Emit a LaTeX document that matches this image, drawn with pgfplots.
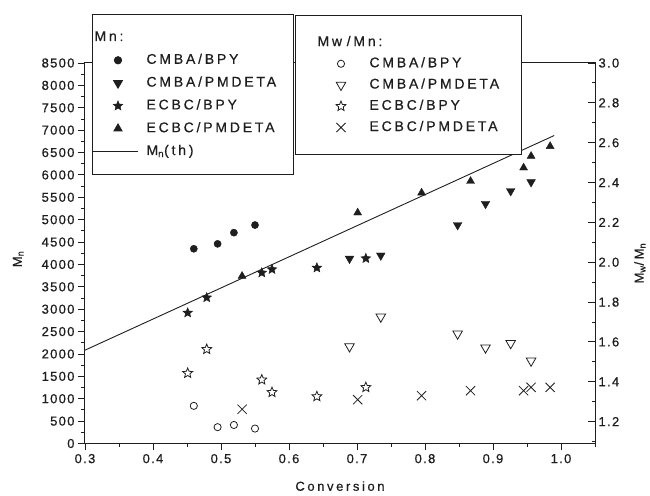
\documentclass[border=0pt]{standalone}
\usepackage{fontspec}
\setmainfont{Liberation Sans}[LetterSpace=10, FakeBold=0.6]
\newfontfamily\legfont{Liberation Sans}[LetterSpace=20, FakeBold=0.6]
\usepackage{pgfplots}
\pgfplotsset{compat=1.18}

\definecolor{ink}{HTML}{1E1E1E}

% filled five-pointed star
\pgfdeclareplotmark{fstar}{%
  \pgfpathmoveto{\pgfpointpolar{90}{\pgfplotmarksize}}%
  \pgfpathlineto{\pgfpointpolar{126}{0.45\pgfplotmarksize}}%
  \pgfpathlineto{\pgfpointpolar{162}{\pgfplotmarksize}}%
  \pgfpathlineto{\pgfpointpolar{198}{0.45\pgfplotmarksize}}%
  \pgfpathlineto{\pgfpointpolar{234}{\pgfplotmarksize}}%
  \pgfpathlineto{\pgfpointpolar{270}{0.45\pgfplotmarksize}}%
  \pgfpathlineto{\pgfpointpolar{306}{\pgfplotmarksize}}%
  \pgfpathlineto{\pgfpointpolar{342}{0.45\pgfplotmarksize}}%
  \pgfpathlineto{\pgfpointpolar{18}{\pgfplotmarksize}}%
  \pgfpathlineto{\pgfpointpolar{54}{0.45\pgfplotmarksize}}%
  \pgfpathclose
  \pgfusepathqfillstroke
}

\pgfplotsset{
  common/.style={
    scale only axis, width=510pt, height=380.5pt,
    xmin=0.3, xmax=1.05,
    /pgf/number format/assume math mode=true,
    tick label style={font=\fontsize{13}{15}\selectfont, ink},
    label style={font=\legfont\fontsize{13}{15}\selectfont, ink},
    axis line style={ink, line width=1pt, -},
    tick style={ink, line width=0.9pt},
    major tick length=7pt, minor tick length=3.5pt,
    legend cell align=left,
    legend style={font=\legfont\fontsize{14}{16}\selectfont, text=ink,
      draw=ink, line width=1pt, fill=white,
      inner xsep=0pt, column sep=0pt,
      nodes={inner sep=0pt, text height=10pt, text depth=3pt},
      anchor=north west},
  },
}

\begin{document}
\begin{tikzpicture}
\begin{axis}[common,
    ymin=0, ymax=8500,
    xtick={0.3,0.4,0.5,0.6,0.7,0.8,0.9,1.0},
    minor xtick={0.35,0.45,0.55,0.65,0.75,0.85,0.95,1.05},
    ytick={0,500,...,8500},
    minor ytick={250,750,...,8250},
    xtick pos=left, ytick pos=left,
    tick align=outside,
    xticklabel style={/pgf/number format/.cd, fixed, fixed zerofill, precision=1},
    yticklabel style={/pgf/number format/1000 sep={}},
    xlabel={Conversion},
    ylabel={M\textsubscript{n}},
    xlabel style={at={(axis description cs:0.5,-0.112)}, anchor=center},
    ylabel style={at={(axis description cs:-0.131,0.485)}, anchor=center},
    legend style={at={(axis description cs:0.01373,1.1288)},
      inner ysep=16.5pt, row sep=9.8pt,
      nodes={text width=147pt}},
    legend image code/.code={\draw[#1] plot coordinates {(0pt,0pt)};
      \path (-25pt,0pt) (28pt,0pt);},
  ]
\coordinate (O) at (rel axis cs:0,0);
\addlegendimage{empty legend}
\addlegendentry{\hspace*{-52pt}Mn:}

\addplot[only marks, ink, mark=*, mark size=3.6pt] coordinates {
  (0.460,4350) (0.495,4460) (0.519,4710) (0.550,4880)
};
\addlegendentry{CMBA/BPY}

\addplot[only marks, ink, mark=triangle*, mark size=5pt,
  mark options={rotate=180}] coordinates {
  (0.689,4130) (0.735,4200) (0.848,4880) (0.889,5355) (0.926,5640) (0.956,5840)
};
\addlegendentry{CMBA/PMDETA}

\addplot[only marks, ink, mark=fstar, mark size=5pt,
  mark options={line width=0.5pt}] coordinates {
  (0.451,2920) (0.479,3260) (0.560,3815) (0.575,3890) (0.641,3925) (0.713,4135)
};
\addlegendentry{ECBC/BPY}

\addplot[only marks, ink, mark=triangle*, mark size=4.6pt] coordinates {
  (0.531,3740) (0.701,5155) (0.795,5600) (0.867,5860) (0.945,6160) (0.956,6420) (0.984,6640)
};
\addlegendentry{ECBC/PMDETA}

\addplot[ink, line width=0.9pt, no marks,
  legend image code/.code={\draw[ink, line width=0.9pt] (-25pt,0pt) -- (20pt,0pt);
    \path (28pt,0pt);}] coordinates {
  (0.3,2085) (0.99,6880)
};
\addlegendentry{M\textsubscript{n}(th)}
\end{axis}

\begin{axis}[common,
    ymin=1.09, ymax=3.0,
    axis x line=none, axis y line*=right,
    ytick={1.2,1.4,1.6,1.8,2.0,2.2,2.4,2.6,2.8,3.0},
    minor ytick={1.1,1.3,1.5,1.7,1.9,2.1,2.3,2.5,2.7,2.9},
    tick align=inside,
    yticklabel style={/pgf/number format/.cd, fixed, fixed zerofill, precision=1},
    ylabel={M\textsubscript{w}/M\textsubscript{n}},
    ylabel style={at={(axis description cs:1.088,0.474)}, anchor=center},
    legend style={at={(axis description cs:0.41176,1.1261)},
      inner ysep=20.5pt, row sep=8.25pt,
      nodes={text width=152pt}},
    legend image code/.code={\draw[#1] plot coordinates {(0pt,0pt)};
      \path (-45pt,0pt) (28pt,0pt);},
  ]
\addlegendimage{empty legend}
\addlegendentry{\hspace*{-52pt}Mw /Mn:}

\addplot[only marks, ink, mark=o, mark size=3.6pt,
  mark options={line width=0.8pt}] coordinates {
  (0.460,1.279) (0.495,1.172) (0.519,1.183) (0.550,1.165)
};
\addlegendentry{CMBA/BPY}

\addplot[only marks, ink, mark=triangle, mark size=5.5pt,
  mark options={rotate=180, line width=0.8pt}] coordinates {
  (0.689,1.577) (0.735,1.726) (0.848,1.641) (0.889,1.571) (0.926,1.593) (0.956,1.505)
};
\addlegendentry{CMBA/PMDETA}

\addplot[only marks, ink, mark=fstar, mark size=5.2pt,
  mark options={fill=white, line width=0.8pt}] coordinates {
  (0.451,1.443) (0.479,1.563) (0.560,1.410) (0.575,1.347) (0.641,1.326) (0.713,1.372)
};
\addlegendentry{ECBC/BPY}

\addplot[only marks, ink, mark=x, mark size=6.5pt,
  mark options={line width=0.8pt}] coordinates {
  (0.531,1.262) (0.701,1.310) (0.795,1.330) (0.867,1.355) (0.945,1.355) (0.956,1.372) (0.984,1.372)
};
\addlegendentry{ECBC/PMDETA}
\end{axis}

\pgfresetboundingbox
\path (O) ++(-85pt,-51.5pt) rectangle ++(650pt,495pt);
\end{tikzpicture}
\end{document}
